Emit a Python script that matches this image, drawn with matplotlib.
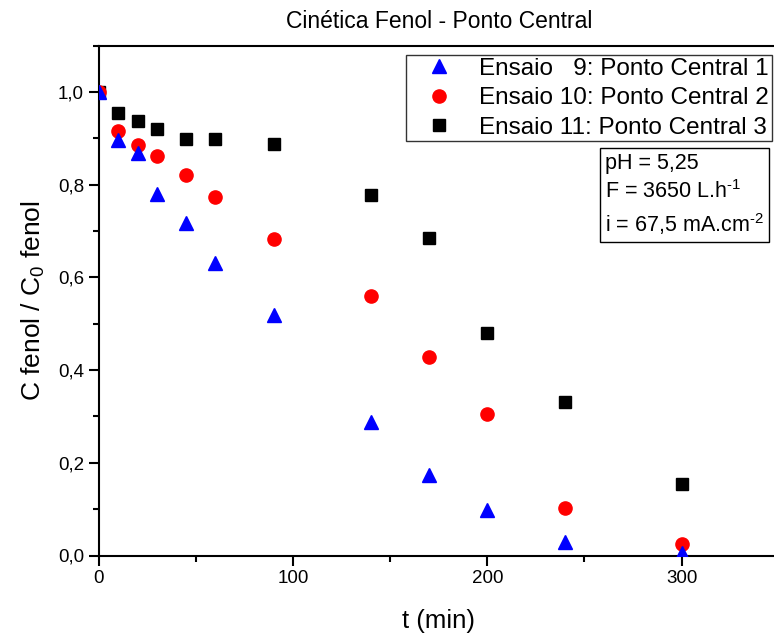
import matplotlib
matplotlib.use("Agg")
import matplotlib.pyplot as plt
from matplotlib.ticker import MultipleLocator, FuncFormatter

plt.rcParams['font.family'] = ['Liberation Sans', 'DejaVu Sans']
plt.rcParams['mathtext.fontset'] = 'custom'
plt.rcParams['mathtext.rm'] = 'Liberation Sans'
plt.rcParams['mathtext.it'] = 'Liberation Sans'

t = [0, 10, 20, 30, 45, 60, 90, 140, 170, 200, 240, 300]
ensaio9 = [1.0, 0.897, 0.868, 0.780, 0.718, 0.631, 0.520, 0.288, 0.173, 0.098, 0.030, 0.006]
ensaio10 = [1.0, 0.916, 0.886, 0.862, 0.820, 0.773, 0.683, 0.559, 0.428, 0.305, 0.102, 0.025]
ensaio11 = [1.0, 0.954, 0.937, 0.921, 0.898, 0.898, 0.888, 0.777, 0.684, 0.481, 0.332, 0.155]
labels = ["Ensaio   9: Ponto Central 1", "Ensaio 10: Ponto Central 2", "Ensaio 11: Ponto Central 3"]

W, H = 774, 635
fig = plt.figure(figsize=(W / 100, H / 100), dpi=100)
left, right, top, bottom = 98.7, 778.8, 45.7, 555.5
ax = fig.add_axes([left / W, 1 - bottom / H, (right - left) / W, (bottom - top) / H])

ax.plot(t, ensaio11, linestyle='none', marker='s', color='black', markersize=8.5, label=labels[2], zorder=3)
ax.plot(t, ensaio10, linestyle='none', marker='o', color='red', markersize=9.5, label=labels[1], zorder=4)
ax.plot(t, ensaio9, linestyle='none', marker='^', color='blue', markersize=10, label=labels[0], zorder=5)

ax.set_xlim(0, 350)
ax.set_ylim(0, 1.1)
ax.xaxis.set_major_locator(MultipleLocator(100))
ax.xaxis.set_minor_locator(MultipleLocator(50))
ax.yaxis.set_major_locator(MultipleLocator(0.2))
ax.yaxis.set_minor_locator(MultipleLocator(0.1))
ax.yaxis.set_major_formatter(FuncFormatter(lambda v, p: f"{v:.1f}".replace('.', ',')))
ax.tick_params(which='major', direction='out', length=7, width=1.5, labelsize=13.5)
ax.tick_params(which='minor', direction='out', length=4, width=1.5)
for s in ax.spines.values():
    s.set_linewidth(1.5)

ax.set_title("Cinética Fenol - Ponto Central", fontsize=16.5, pad=13)
ax.set_xlabel("t (min)", fontsize=18.5, labelpad=16)
ax.set_ylabel("C fenol / C$_0$ fenol", fontsize=19, labelpad=8)

handles, labs = ax.get_legend_handles_labels()
order = [2, 1, 0]
leg = ax.legend([handles[i] for i in order], [labs[i] for i in order],
                loc='upper right', bbox_to_anchor=((772 - left) / (right - left), (555.5 - 55) / (bottom - top)),
                fontsize=17.5, frameon=True, fancybox=False, edgecolor='black',
                handletextpad=0.45, borderpad=0.12, labelspacing=0.3, borderaxespad=0,
                handlelength=2.45)
leg.get_frame().set_linewidth(1.0)

ax.text((605 - left) / (right - left), (555.5 - 153) / (bottom - top),
        "pH = 5,25\nF = 3650 L.h$^{\\text{-1}}$\ni = 67,5 mA.cm$^{\\text{-2}}$",
        transform=ax.transAxes, ha='left', va='top', fontsize=15.5, linespacing=1.36,
        multialignment='left',
        bbox=dict(boxstyle='square,pad=0.22', facecolor='white', edgecolor='black', linewidth=1.0))

fig.savefig("out.png", dpi=100)
